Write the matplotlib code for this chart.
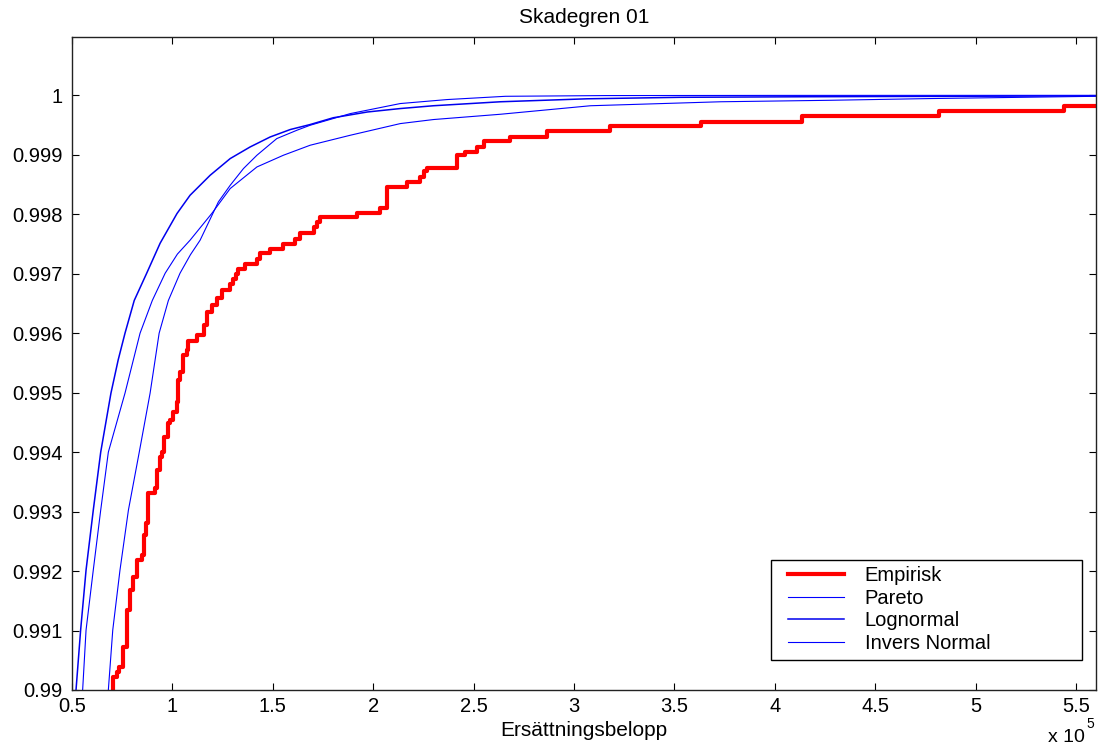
import numpy as np
import matplotlib
matplotlib.use("Agg")
import matplotlib.pyplot as plt
from matplotlib.patches import Rectangle

plt.rcParams['font.family'] = ['Liberation Sans', 'DejaVu Sans']

# belopp i enheter om 1e5 kr (axeln visar "x 10^5")
# empirisk fordelning: hopp-positioner och niva efter hoppet
emp_x = [0.706, 0.723, 0.736, 0.756, 0.773, 0.789, 0.806, 0.826, 0.847, 0.859,
         0.869, 0.880, 0.914, 0.922, 0.939, 0.947, 0.960, 0.977, 0.989, 1.005,
         1.022, 1.030, 1.038, 1.055, 1.072, 1.080, 1.122, 1.158, 1.171, 1.196,
         1.221, 1.246, 1.288, 1.304, 1.316, 1.329, 1.362, 1.421, 1.437, 1.484,
         1.553, 1.612, 1.637, 1.703, 1.720, 1.733, 1.919, 2.035, 2.069, 2.168,
         2.235, 2.251, 2.268, 2.418, 2.459, 2.517, 2.550, 2.680, 2.866, 3.178,
         3.631, 4.138, 4.819, 5.439]
emp_y = [0.990224, 0.990308, 0.990392, 0.990728, 0.991345, 0.991681, 0.991904,
         0.992185, 0.992269, 0.992605, 0.992801, 0.993306, 0.993390, 0.993697,
         0.993921, 0.994005, 0.994257, 0.994482, 0.994538, 0.994678, 0.994845,
         0.995210, 0.995350, 0.995630, 0.995714, 0.995871, 0.995966, 0.996134,
         0.996358, 0.996471, 0.996583, 0.996734, 0.996835, 0.996919, 0.997003,
         0.997087, 0.997171, 0.997255, 0.997350, 0.997423, 0.997507, 0.997591,
         0.997686, 0.997787, 0.997871, 0.997955, 0.998022, 0.998112, 0.998459,
         0.998543, 0.998627, 0.998728, 0.998785, 0.998992, 0.999047, 0.999131,
         0.999232, 0.999299, 0.999400, 0.999484, 0.999557, 0.999647, 0.999736,
         0.999815]

# anpassade fordelningar (avlasta punkter)
pareto_x = [0.553, 0.570, 0.606, 0.643, 0.681, 0.764, 0.839, 0.900, 0.964, 1.025,
            1.088, 1.196, 1.288, 1.421, 1.553, 1.686, 1.886, 2.135, 2.300, 2.634,
            3.082, 3.730, 4.279, 4.777, 5.60]
pareto_y = [0.99, 0.991008, 0.992017, 0.993025, 0.994, 0.994992, 0.996, 0.99655,
            0.997008, 0.99733, 0.997563, 0.998012, 0.998432, 0.998795, 0.998992,
            0.999160, 0.999328, 0.999524, 0.999592, 0.999681, 0.999824, 0.999891,
            0.999916, 0.999945, 0.999983]

lognorm_x = [0.520, 0.543, 0.570, 0.606, 0.643, 0.694, 0.730, 0.764, 0.810, 0.872,
             0.939, 1.023, 1.088, 1.188, 1.288, 1.387, 1.487, 1.587, 1.686, 1.801,
             1.971, 2.135, 2.300, 2.634, 3.067, 3.531, 4.129, 4.877, 5.60]
lognorm_y = [0.99, 0.991008, 0.992017, 0.993025, 0.994, 0.994992, 0.99555, 0.996,
             0.99655, 0.997008, 0.997513, 0.998012, 0.998319, 0.998655, 0.998936,
             0.999131, 0.999299, 0.999424, 0.999508, 0.999622, 0.999719, 0.999777,
             0.999824, 0.999891, 0.999941, 0.999966, 0.999975, 0.999983, 0.99999]

invnorm_x = [0.681, 0.703, 0.739, 0.781, 0.835, 0.889, 0.934, 0.980, 1.038, 1.090,
             1.138, 1.229, 1.288, 1.354, 1.421, 1.520, 1.620, 1.686, 1.886, 2.135,
             2.368, 2.659, 3.157, 4.0, 5.60]
invnorm_y = [0.99, 0.991008, 0.992017, 0.993025, 0.994, 0.994992, 0.996, 0.99655,
             0.997008, 0.99732, 0.997563, 0.998207, 0.998487, 0.998768, 0.998992,
             0.999272, 0.999412, 0.999496, 0.999692, 0.999861, 0.999928, 0.999983,
             0.999995, 0.999998, 0.999999]

x_ticks = np.arange(0.5, 5.51, 0.5)
y_ticks = np.arange(0.99, 1.0001, 0.001)

fig = plt.figure(figsize=(11.01, 7.51), dpi=100)
ax = fig.add_axes([72/1101, 1 - 690/751, 1024/1101, 653/751])

# empirisk trappa (startar nedanfor axeln)
sx = [emp_x[0]] + emp_x + [5.6]
sy = [0.9899] + emp_y + [emp_y[-1]]
ax.step(sx, sy, where='post', color='red', lw=3, label='Empirisk')
ax.plot(pareto_x, pareto_y, color='blue', lw=0.8, label='Pareto')
ax.plot(lognorm_x, lognorm_y, color='#0000ee', lw=1.1, label='Lognormal')
ax.plot(invnorm_x, invnorm_y, color='blue', lw=0.8, label='Invers Normal')

ax.set_xlim(0.5, 5.6)
ax.set_ylim(0.99, 1.00098)
ax.set_xticks(x_ticks)
ax.set_xticklabels(['%g' % t for t in x_ticks])
ax.set_yticks(y_ticks)
ax.set_yticklabels(['%g' % round(t, 3) for t in y_ticks])
ax.tick_params(direction='in', length=5, width=0.8, top=True, right=True,
               labelsize=14.5)
ax.tick_params(axis='y', pad=7)
ax.tick_params(axis='x', pad=5)
for s in ax.spines.values():
    s.set_linewidth(1.0)
    s.set_color('#222222')

ax.set_title('Skadegren 01', fontsize=15, pad=10)
ax.set_xlabel('Ersättningsbelopp', fontsize=15, labelpad=3.5)

fig.text(1085/1101, 1 - 746/751, 'x 10', fontsize=14, ha='right', va='bottom')
fig.text(1086/1101, 1 - 731/751, '5', fontsize=10, ha='left', va='bottom')

# legendram ritas separat, legenden utan egen ram
ax.add_patch(Rectangle((771/1101, 1 - 660/751), 311/1101, 100/751,
                       transform=fig.transFigure, clip_on=False, facecolor='white',
                       edgecolor='black', lw=1.0, zorder=4))
leg = ax.legend(loc='upper left', bbox_to_anchor=(788/1101, 1 - 566/751),
                bbox_transform=fig.transFigure, fontsize=14.5, frameon=False,
                borderaxespad=0, borderpad=0, labelspacing=0.18,
                handlelength=2.8, handletextpad=1.0)
leg.set_zorder(6)

fig.savefig('out.png', dpi=100, facecolor='white')
